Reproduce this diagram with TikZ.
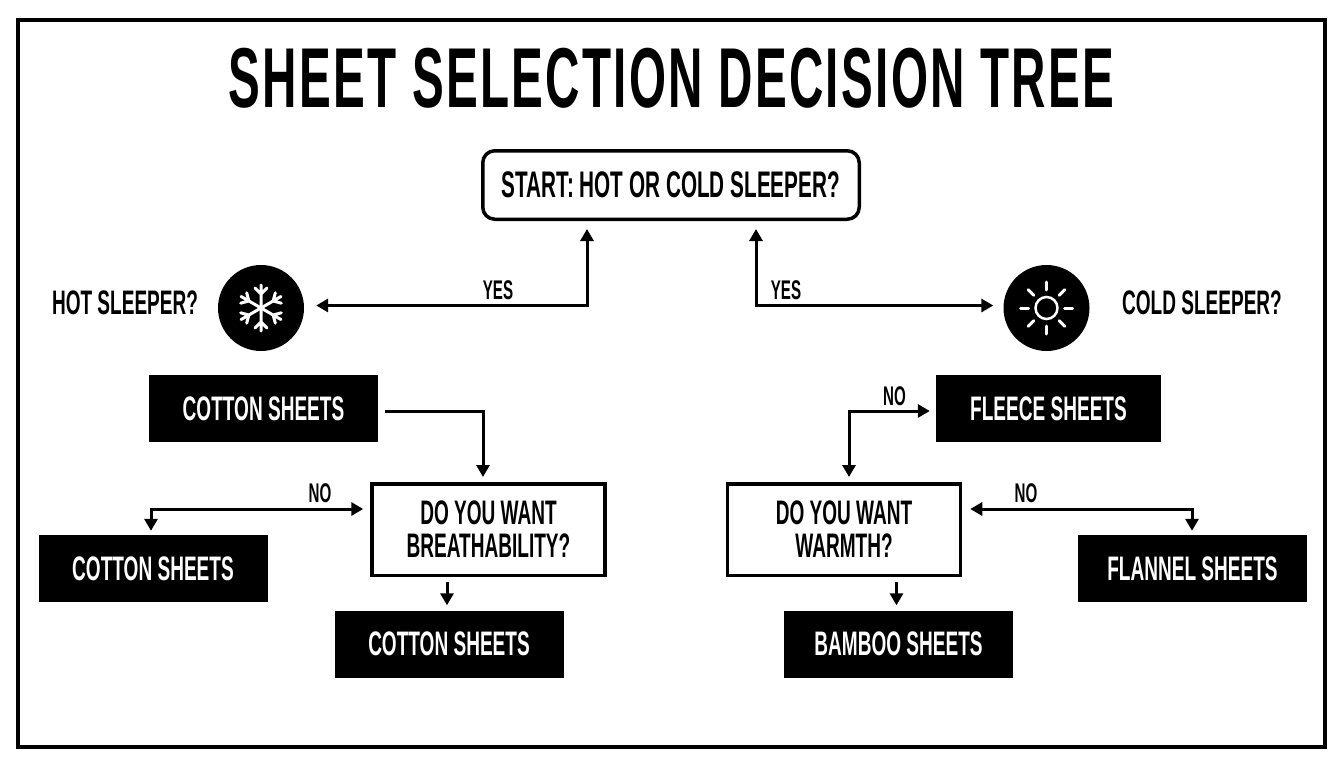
\documentclass[tikz,border=0pt]{standalone}
\usepackage{fontspec}
\usepackage{tikz}
\usetikzlibrary{arrows.meta}
\setmainfont[FakeStretch=0.56]{Liberation Sans}
\newcommand{\boxtext}{\fontsize{34}{33}\selectfont\bfseries}
\tikzset{
	sheetbox/.style={fill=black, text=white, minimum width=229pt, minimum height=67pt, inner sep=0pt, font=\boxtext},
	askbox/.style={draw=black, line width=3.5pt, fill=white, minimum width=233pt, minimum height=91.5pt, inner sep=0pt, align=center, font=\boxtext},
	startbox/.style={draw=black, line width=3.5pt, rounded corners=12pt, minimum width=376.5pt, minimum height=68.5pt, inner sep=0pt, font=\fontsize{37}{37}\selectfont\bfseries},
	caption/.style={inner sep=0pt, font=\boxtext},
	answer/.style={inner sep=0pt, font=\fontsize{27}{27}\selectfont\bfseries},
	iconcircle/.style={circle, fill=black, minimum size=86pt, inner sep=0pt},
	flow/.style={line width=3pt, {Triangle[length=12pt,width=13pt]}-{Triangle[length=12pt,width=13pt]}},
	oneway/.style={line width=3pt, -{Triangle[length=12pt,width=13pt]}},
	icon/.style={white, line width=3pt, line cap=round}
}
\begin{document}
\begin{tikzpicture}[x=1pt,y=-1pt]
	\useasboundingbox (0,0) rectangle (1344,768);
	\draw[line width=4.5pt] (18,20) rectangle (1325,747);
	\node[inner sep=0pt, font=\fontsize{85}{85}\selectfont\bfseries\addfontfeature{LetterSpace=2.7}] (title) at (671.5,78) {SHEET SELECTION DECISION TREE};
	\node[startbox] (start) at (671,185) {START: HOT OR COLD SLEEPER?};

	\node[caption] (hot) at (125,303) {HOT SLEEPER?};
	\node[iconcircle] (snow) at (261,308) {};
	\node[caption] (cold) at (1202,303) {COLD SLEEPER?};
	\node[iconcircle] (sun) at (1046.5,308) {};

	\foreach \a in {30,90,150,210,270,330} {
		\draw[icon, shift={(snow.center)}, rotate=\a] (0,0) -- (23,0) (14,0) -- (20,-6) (14,0) -- (20,6);
	}
	\draw[white, line width=2.5pt] (sun.center) circle (11);
	\foreach \a in {0,45,...,315} {
		\draw[icon, shift={(sun.center)}, rotate=\a] (18,0) -- (26,0);
	}

	\node[sheetbox] (cottontop) at (263.5,408.5) {COTTON SHEETS};
	\node[askbox] (breath) at (488.5,529.5) {DO YOU WANT\\BREATHABILITY?};
	\node[sheetbox] (cottonleft) at (153,568.5) {COTTON SHEETS};
	\node[sheetbox] (cottonbottom) at (449,644) {COTTON SHEETS};

	\node[sheetbox, minimum width=225pt] (fleece) at (1048.5,408.5) {FLEECE SHEETS};
	\node[askbox] (warmth) at (844,529.5) {DO YOU WANT\\WARMTH?};
	\node[sheetbox] (flannel) at (1192.5,568.5) {FLANNEL SHEETS};
	\node[sheetbox] (bamboo) at (898.5,644) {BAMBOO SHEETS};

	\coordinate (hotturn) at (587,305.5);
	\coordinate (coldturn) at (756,305.5);
	\coordinate (cottonturn) at (483,411);
	\coordinate (fleeceturn) at (849,411);
	\coordinate (breathturn) at (151,509);
	\coordinate (warmthturn) at (1192,509);
	\coordinate (breathout) at (447,577);
	\coordinate (warmthout) at (896.5,577);

	\draw[flow, shorten <=12pt, shorten >=8pt] (snow.east |- hotturn) -- (hotturn) -- (hotturn |- start.south);
	\draw[flow, shorten <=8pt, shorten >=10pt] (coldturn |- start.south) -- (coldturn) -- (sun.west |- coldturn);
	\draw[oneway, shorten <=7pt, shorten >=5pt] (cottontop.east |- cottonturn) -- (cottonturn) -- (cottonturn |- breath.north);
	\draw[flow, shorten <=4pt, shorten >=7pt] (breathturn |- cottonleft.north) -- (breathturn) -- (breath.west |- breathturn);
	\draw[oneway, shorten <=5pt, shorten >=5pt] (breathout) -- (breathout |- cottonbottom.north);
	\draw[flow, shorten <=6pt, shorten >=5pt] (fleece.west |- fleeceturn) -- (fleeceturn) -- (fleeceturn |- warmth.north);
	\draw[flow, shorten <=8pt, shorten >=4pt] (warmth.east |- warmthturn) -- (warmthturn) -- (warmthturn |- flannel.north);
	\draw[oneway, shorten <=5pt, shorten >=5pt] (warmthout) -- (warmthout |- bamboo.north);

	\node[answer] (yesleft) at (498,290) {YES};
	\node[answer] (yesright) at (786,290) {YES};
	\node[answer] (nobreath) at (320,493) {NO};
	\node[answer] (nofleece) at (894.5,396) {NO};
	\node[answer] (nowarmth) at (1026,493) {NO};
\end{tikzpicture}
\end{document}
